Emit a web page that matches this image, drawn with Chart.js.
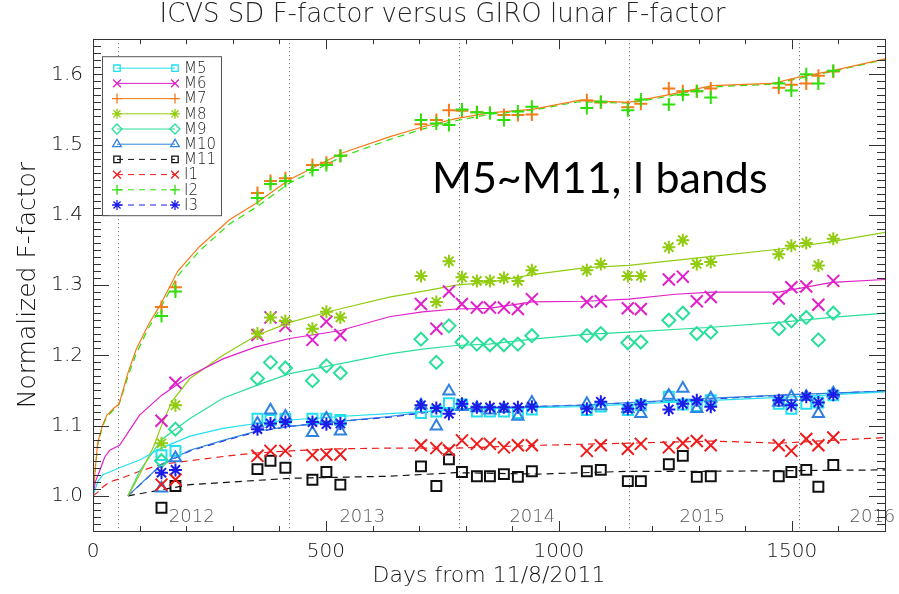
<!DOCTYPE html>
<html>
<head>
<meta charset="utf-8">
<title>ICVS SD F-factor versus GIRO lunar F-factor</title>
<script src="https://cdn.jsdelivr.net/npm/chart.js"></script>
<style>
  html, body { margin: 0; padding: 0; background: #fff; }
  canvas { display: block; }
</style>
</head>
<body>
<canvas id="fChart" width="899" height="594"></canvas>
<script>
// bands, colours and marker styles (IDL-like)
const bands = ["M5", "M6", "M7", "M8", "M9", "M10", "M11", "I1", "I2", "I3"];
const bandColors = ["#22dfee", "#e020c8", "#f57a1a", "#92cc10", "#2adf9a", "#2f82e0", "#111111", "#ee1c1c", "#2ee00a", "#1c1ce8"];
const bandMarkers = ["rect", "crossRot", "cross", "star", "rectRot", "triangle", "rect", "crossRot", "cross", "star"];
const bandDashed = [false, false, false, false, false, false, true, true, true, true];

// year boundaries (days from 11/8/2011)
const yearDays = [54, 420, 785, 1150, 1515];
const yearLabels = ["2012", "2013", "2014", "2015", "2016"];

// GIRO lunar F-factor points
const lunarDays = [147, 177, 353, 381, 413, 471, 501, 531, 704, 737, 764, 792, 824, 852, 882, 912, 942, 1060, 1090, 1148, 1176, 1236, 1266, 1296, 1326, 1472, 1499, 1531, 1557, 1589];
const m5Lunar = [1.058, 1.064, 1.110, 1.108, 1.110, 1.110, 1.110, 1.108, 1.118, 1.120, 1.132, 1.130, 1.120, 1.120, 1.120, 1.118, 1.123, 1.122, 1.127, 1.122, 1.129, 1.141, 1.130, 1.128, 1.136, 1.131, 1.124, 1.131, 1.133, 1.143];
const m6Lunar = [1.107, 1.161, 1.229, 1.254, 1.242, 1.222, 1.248, 1.229, 1.273, 1.238, 1.291, 1.273, 1.268, 1.268, 1.268, 1.266, 1.280, 1.276, 1.277, 1.267, 1.266, 1.308, 1.312, 1.277, 1.283, 1.281, 1.297, 1.298, 1.272, 1.306];
const m7Lunar = [1.269, 1.297, 1.431, 1.448, 1.452, 1.471, 1.474, 1.484, 1.529, 1.535, 1.549, 1.548, 1.546, 1.545, 1.542, 1.542, 1.543, 1.563, 1.560, 1.553, 1.558, 1.580, 1.576, 1.576, 1.580, 1.581, 1.585, 1.587, 1.598, 1.604];
const m8Lunar = [1.075, 1.129, 1.231, 1.254, 1.249, 1.238, 1.262, 1.254, 1.313, 1.276, 1.334, 1.311, 1.306, 1.306, 1.310, 1.306, 1.321, 1.321, 1.330, 1.313, 1.313, 1.354, 1.364, 1.330, 1.333, 1.344, 1.356, 1.360, 1.328, 1.366];
const m9Lunar = [1.050, 1.095, 1.167, 1.190, 1.182, 1.164, 1.185, 1.175, 1.223, 1.190, 1.242, 1.219, 1.216, 1.215, 1.215, 1.216, 1.228, 1.228, 1.231, 1.218, 1.219, 1.250, 1.260, 1.231, 1.233, 1.238, 1.249, 1.254, 1.222, 1.260];
const m10Lunar = [1.011, 1.054, 1.103, 1.122, 1.113, 1.090, 1.110, 1.092, 1.129, 1.099, 1.149, 1.127, 1.125, 1.122, 1.124, 1.113, 1.133, 1.131, 1.128, 1.124, 1.117, 1.143, 1.153, 1.124, 1.139, 1.133, 1.141, 1.141, 1.117, 1.146];
const m11Lunar = [0.983, 1.014, 1.038, 1.050, 1.040, 1.023, 1.034, 1.016, 1.042, 1.014, 1.052, 1.034, 1.028, 1.028, 1.031, 1.027, 1.035, 1.035, 1.037, 1.021, 1.021, 1.045, 1.057, 1.027, 1.028, 1.028, 1.034, 1.037, 1.013, 1.044];
const i1Lunar = [1.016, 1.023, 1.057, 1.064, 1.064, 1.058, 1.059, 1.059, 1.072, 1.068, 1.065, 1.079, 1.074, 1.074, 1.069, 1.072, 1.072, 1.064, 1.072, 1.067, 1.074, 1.069, 1.075, 1.078, 1.072, 1.072, 1.064, 1.081, 1.072, 1.083];
const i2Lunar = [1.256, 1.291, 1.424, 1.444, 1.448, 1.464, 1.471, 1.484, 1.535, 1.530, 1.528, 1.550, 1.546, 1.545, 1.535, 1.547, 1.554, 1.552, 1.561, 1.549, 1.564, 1.557, 1.571, 1.576, 1.567, 1.587, 1.577, 1.600, 1.587, 1.605];
const i3Lunar = [1.033, 1.037, 1.095, 1.103, 1.105, 1.105, 1.102, 1.103, 1.129, 1.125, 1.117, 1.131, 1.126, 1.126, 1.126, 1.126, 1.127, 1.124, 1.134, 1.124, 1.130, 1.123, 1.131, 1.136, 1.127, 1.136, 1.129, 1.141, 1.133, 1.144];

// ICVS SD F-factor curves
const m5CurveDays = [0, 10, 21, 40, 57, 100, 147, 208, 279, 350, 422, 529, 636, 707, 779, 850, 1043, 1329, 1500, 1700];
const m5Curve = [1.000, 1.020, 1.030, 1.035, 1.040, 1.051, 1.068, 1.085, 1.096, 1.103, 1.108, 1.113, 1.117, 1.120, 1.122, 1.124, 1.127, 1.136, 1.141, 1.148];
const m6CurveDays = [0, 5, 14, 25, 36, 57, 75, 100, 147, 208, 279, 350, 422, 529, 636, 707, 779, 850, 943, 1058, 1150, 1250, 1329, 1472, 1586, 1700];
const m6Curve = [1.000, 1.020, 1.035, 1.055, 1.065, 1.072, 1.090, 1.115, 1.143, 1.171, 1.195, 1.212, 1.224, 1.235, 1.255, 1.262, 1.266, 1.267, 1.276, 1.277, 1.280, 1.287, 1.290, 1.290, 1.304, 1.308];
const m7CurveDays = [0, 5, 10, 20, 30, 45, 55, 60, 75, 93, 120, 143, 182, 229, 293, 351, 421, 535, 636, 707, 779, 850, 943, 1043, 1150, 1229, 1329, 1458, 1515, 1586, 1700];
const m7Curve = [1.000, 1.040, 1.075, 1.100, 1.115, 1.125, 1.130, 1.140, 1.175, 1.209, 1.245, 1.270, 1.320, 1.355, 1.393, 1.417, 1.450, 1.488, 1.511, 1.525, 1.537, 1.545, 1.550, 1.563, 1.560, 1.570, 1.584, 1.587, 1.596, 1.605, 1.622];
const m8CurveDays = [75, 100, 130, 147, 170, 208, 279, 350, 422, 529, 636, 707, 779, 850, 943, 1058, 1150, 1329, 1472, 1586, 1700];
const m8Curve = [1.000, 1.030, 1.070, 1.100, 1.135, 1.167, 1.200, 1.228, 1.247, 1.266, 1.283, 1.291, 1.300, 1.304, 1.315, 1.325, 1.328, 1.341, 1.351, 1.362, 1.375];
const m9CurveDays = [75, 100, 147, 208, 279, 350, 422, 529, 636, 707, 779, 850, 943, 1058, 1150, 1329, 1472, 1586, 1700];
const m9Curve = [1.000, 1.035, 1.080, 1.110, 1.139, 1.157, 1.174, 1.188, 1.202, 1.209, 1.214, 1.216, 1.223, 1.230, 1.233, 1.240, 1.247, 1.254, 1.260];
const m10CurveDays = [75, 147, 208, 279, 350, 422, 529, 636, 707, 779, 850, 1043, 1329, 1500, 1700];
const m10Curve = [1.000, 1.045, 1.065, 1.079, 1.092, 1.099, 1.106, 1.113, 1.119, 1.124, 1.125, 1.129, 1.139, 1.144, 1.149];
const m11CurveDays = [75, 208, 422, 636, 779, 957, 1150, 1329, 1700];
const m11Curve = [1.000, 1.016, 1.025, 1.028, 1.033, 1.031, 1.035, 1.035, 1.037];
const i1CurveDays = [0, 10, 20, 36, 60, 100, 147, 208, 279, 350, 422, 529, 636, 779, 957, 1150, 1329, 1472, 1700];
const i1Curve = [1.000, 1.005, 1.012, 1.020, 1.025, 1.035, 1.045, 1.050, 1.056, 1.061, 1.064, 1.067, 1.068, 1.068, 1.072, 1.075, 1.078, 1.075, 1.083];
const i2CurveDays = m7CurveDays;
const i2Curve = [1.000, 1.038, 1.072, 1.098, 1.113, 1.123, 1.129, 1.138, 1.170, 1.203, 1.240, 1.265, 1.313, 1.349, 1.387, 1.411, 1.445, 1.483, 1.507, 1.522, 1.534, 1.543, 1.549, 1.561, 1.559, 1.568, 1.582, 1.586, 1.594, 1.604, 1.621];
const i3CurveDays = m10CurveDays;
const i3Curve = [1.000, 1.044, 1.064, 1.078, 1.091, 1.099, 1.106, 1.112, 1.118, 1.123, 1.125, 1.129, 1.138, 1.144, 1.149];

const lunarVals = [m5Lunar, m6Lunar, m7Lunar, m8Lunar, m9Lunar, m10Lunar, m11Lunar, i1Lunar, i2Lunar, i3Lunar];
const curveDays = [m5CurveDays, m6CurveDays, m7CurveDays, m8CurveDays, m9CurveDays, m10CurveDays, m11CurveDays, i1CurveDays, i2CurveDays, i3CurveDays];
const curveVals = [m5Curve, m6Curve, m7Curve, m8Curve, m9Curve, m10Curve, m11Curve, i1Curve, i2Curve, i3Curve];

const markerRadius = { rect: 7, crossRot: 8.5, cross: 6.5, star: 6.5, rectRot: 6.5, triangle: 6.5 };
const legendRadius = { rect: 4.5, crossRot: 5.5, cross: 5, star: 5, rectRot: 5, triangle: 5 };
const FONT = "'DejaVu Sans', sans-serif";
const TEXT_WEIGHT = 200;

const datasets = [];
bands.forEach((band, i) => {
  datasets.push({
    label: band + " SD",
    data: curveDays[i].map((d, k) => ({ x: d, y: curveVals[i][k] })),
    showLine: true,
    borderColor: bandColors[i],
    borderWidth: 1.2,
    borderDash: bandDashed[i] ? [7, 5] : [],
    pointRadius: 0,
    fill: false,
    order: 20
  });
  datasets.push({
    label: band,
    data: lunarDays.map((d, k) => ({ x: d, y: lunarVals[i][k] })),
    showLine: false,
    pointStyle: bandMarkers[i],
    pointRadius: markerRadius[bandMarkers[i]],
    pointBorderWidth: 2,
    borderColor: bandColors[i],
    backgroundColor: "rgba(0,0,0,0)",
    order: 10 - i
  });
});

// small marker painter for the in-plot legend
function drawMarker(ctx, style, r, x, y) {
  ctx.beginPath();
  if (style === "rect") {
    const s = r * Math.SQRT1_2;
    ctx.rect(x - s, y - s, 2 * s, 2 * s);
  } else if (style === "rectRot") {
    ctx.moveTo(x - r, y); ctx.lineTo(x, y - r); ctx.lineTo(x + r, y); ctx.lineTo(x, y + r); ctx.closePath();
  } else if (style === "triangle") {
    ctx.moveTo(x, y - r);
    ctx.lineTo(x + r * 0.866, y + r * 0.5);
    ctx.lineTo(x - r * 0.866, y + r * 0.5);
    ctx.closePath();
  } else {
    const d = r * Math.SQRT1_2;
    if (style === "cross" || style === "star") {
      ctx.moveTo(x - r, y); ctx.lineTo(x + r, y);
      ctx.moveTo(x, y - r); ctx.lineTo(x, y + r);
    }
    if (style === "crossRot" || style === "star") {
      ctx.moveTo(x - d, y - d); ctx.lineTo(x + d, y + d);
      ctx.moveTo(x - d, y + d); ctx.lineTo(x + d, y - d);
    }
  }
  ctx.stroke();
}

const idlFrame = {
  id: "idlFrame",
  beforeDatasetsDraw(chart) {
    const { ctx, chartArea: a, scales: { x } } = chart;
    ctx.save();
    // dotted year boundaries
    ctx.strokeStyle = "#555";
    ctx.lineWidth = 1;
    ctx.setLineDash([1, 3]);
    yearDays.forEach(d => {
      const px = Math.round(x.getPixelForValue(d)) + 0.5;
      ctx.beginPath(); ctx.moveTo(px, a.top); ctx.lineTo(px, a.bottom); ctx.stroke();
    });
    ctx.setLineDash([]);
    // year labels
    ctx.fillStyle = "#555";
    ctx.font = TEXT_WEIGHT + " 18px " + FONT;
    ctx.textAlign = "center";
    ctx.textBaseline = "middle";
    yearDays.forEach((d, i) => {
      ctx.fillText(yearLabels[i], x.getPixelForValue(d + 158), a.bottom - 14);
    });
    ctx.restore();
  },
  afterDatasetsDraw(chart) {
    const { ctx, chartArea: a, scales: { x, y } } = chart;
    ctx.save();
    ctx.strokeStyle = "#333";
    ctx.lineWidth = 1;
    const seg = (x1, y1, x2, y2) => { ctx.beginPath(); ctx.moveTo(x1, y1); ctx.lineTo(x2, y2); ctx.stroke(); };
    // frame
    ctx.strokeRect(Math.round(a.left) + 0.5, Math.round(a.top) + 0.5, Math.round(a.right - a.left), Math.round(a.bottom - a.top));
    // inward ticks, all four sides
    x.ticks.forEach(t => {
      const px = Math.round(x.getPixelForValue(t.value)) + 0.5;
      const len = t.value % 500 === 0 ? 10 : 5;
      seg(px, a.bottom, px, a.bottom - len);
      seg(px, a.top, px, a.top + len);
    });
    y.ticks.forEach(t => {
      const py = Math.round(y.getPixelForValue(t.value)) + 0.5;
      const major = Math.abs(t.value * 10 - Math.round(t.value * 10)) < 1e-6;
      seg(a.left, py, a.left + (major ? 16 : 8), py);
      seg(a.right, py, a.right - (major ? 16 : 8), py);
    });
    ctx.restore();
  },
  afterDraw(chart) {
    const { ctx, chartArea: a } = chart;
    ctx.save();
    // legend box
    const lx = a.left + 9, ly = a.top + 17, lw = 119, lh = 159;
    ctx.fillStyle = "#fff";
    ctx.fillRect(lx, ly, lw, lh);
    ctx.strokeStyle = "#555";
    ctx.lineWidth = 1;
    ctx.strokeRect(lx + 0.5, ly + 0.5, lw, lh);
    ctx.font = TEXT_WEIGHT + " 15px " + FONT;
    ctx.textAlign = "left";
    ctx.textBaseline = "middle";
    bands.forEach((band, i) => {
      const ry = ly + 12 + i * 15.2;
      const x1 = lx + 15, x2 = lx + 73;
      ctx.strokeStyle = bandColors[i];
      ctx.lineWidth = 1;
      ctx.setLineDash(bandDashed[i] ? [6, 5] : []);
      ctx.beginPath(); ctx.moveTo(x1, ry); ctx.lineTo(x2, ry); ctx.stroke();
      ctx.setLineDash([]);
      ctx.lineWidth = 1.3;
      const r = legendRadius[bandMarkers[i]];
      drawMarker(ctx, bandMarkers[i], r, x1, ry);
      drawMarker(ctx, bandMarkers[i], r, x2, ry);
      ctx.fillStyle = "#222";
      ctx.fillText(band, lx + 82, ry + 1);
    });
    // annotation
    ctx.fillStyle = "#000";
    ctx.font = "43px Lato, 'Open Sans', sans-serif";
    ctx.textBaseline = "alphabetic";
    ctx.fillText("M5~M11, I bands", a.left + 339, a.top + 154);
    ctx.restore();
  }
};

new Chart(document.getElementById("fChart"), {
  type: "scatter",
  data: { datasets },
  options: {
    responsive: false,
    animation: false,
    layout: { padding: { left: 0, right: 14, top: 0, bottom: 0 } },
    plugins: {
      legend: { display: false },
      tooltip: { enabled: false },
      title: {
        display: true,
        text: "ICVS SD F-factor versus GIRO lunar F-factor",
        color: "#222",
        font: { family: FONT, size: 26, weight: TEXT_WEIGHT },
        padding: { top: 0, bottom: 8 }
      }
    },
    scales: {
      x: {
        type: "linear",
        min: 0,
        max: 1700,
        afterFit(s) { s.height = 63; },
        grid: { display: false, drawTicks: false },
        border: { display: false },
        ticks: {
          stepSize: 100,
          autoSkip: false,
          maxRotation: 0,
          padding: 9,
          color: "#111",
          font: { family: FONT, size: 20, weight: TEXT_WEIGHT },
          callback: v => (v % 500 === 0 ? String(v) : "")
        },
        title: {
          display: true,
          text: "Days from 11/8/2011",
          color: "#111",
          font: { family: FONT, size: 22, weight: TEXT_WEIGHT },
          padding: { top: 0, bottom: 5 }
        }
      },
      y: {
        type: "linear",
        min: 0.95,
        max: 1.65,
        afterFit(s) { s.width = 93; },
        grid: { display: false, drawTicks: false },
        border: { display: false },
        ticks: {
          stepSize: 0.01,
          autoSkip: false,
          padding: 10,
          color: "#111",
          font: { family: FONT, size: 20, weight: TEXT_WEIGHT },
          callback: v => (Math.abs(v * 10 - Math.round(v * 10)) < 1e-6 ? v.toFixed(1) : "")
        },
        title: {
          display: true,
          text: "Normalized F-factor",
          color: "#111",
          font: { family: FONT, size: 25, weight: TEXT_WEIGHT },
          padding: { top: 13, bottom: 0 }
        }
      }
    }
  },
  plugins: [idlFrame]
});
</script>
</body>
</html>
